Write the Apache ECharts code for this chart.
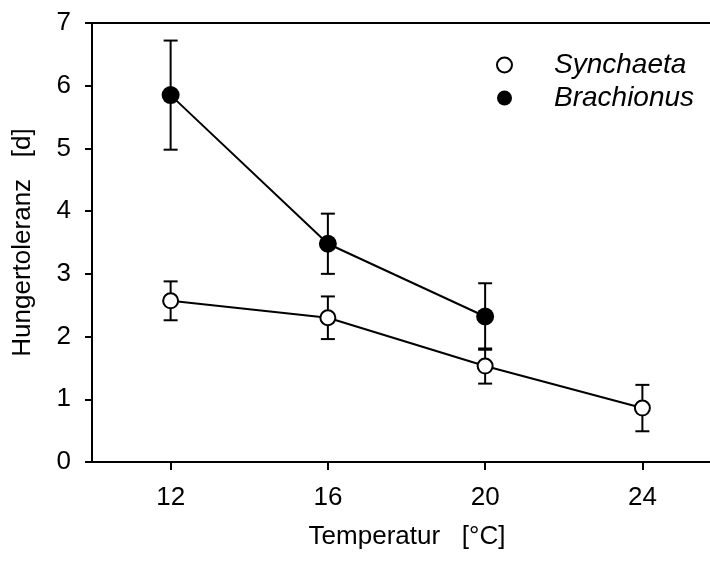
<!DOCTYPE html>
<html>
<head>
<meta charset="utf-8">
<script src="https://cdn.jsdelivr.net/npm/echarts@6/dist/echarts.min.js"></script>
<style>
  html, body { margin: 0; padding: 0; background: #fff; }
  #hunger-chart { width: 710px; height: 561px; }
</style>
</head>
<body>
<div id="hunger-chart"></div>
<script>
// Temperatur [°C]
const xTicks = [12, 16, 20, 24];
const yTicks = [0, 1, 2, 3, 4, 5, 6, 7];

// Synchaeta (open symbols)
const synchaetaTemps = [12, 16, 20, 24];
const synchaetaMean = [2.57, 2.30, 1.53, 0.86];
const synchaetaErr = [0.31, 0.34, 0.28, 0.37];

// Brachionus (filled symbols)
const brachionusTemps = [12, 16, 20];
const brachionusMean = [5.85, 3.48, 2.32];
const brachionusErr = [0.87, 0.48, 0.53];

const FONT = 'Liberation Sans, Arial, sans-serif';

function points(xs, ys) {
  return xs.map((x, i) => [x, ys[i]]);
}
function errRows(xs, ys, es) {
  return xs.map((x, i) => [x, ys[i] - es[i], ys[i] + es[i]]);
}

function renderErrorBar(params, api) {
  const x = api.value(0);
  const top = api.coord([x, api.value(2)]);
  const bot = api.coord([x, api.value(1)]);
  const half = 7;
  const style = { stroke: '#000', lineWidth: 2 };
  return {
    type: 'group',
    children: [
      { type: 'line', shape: { x1: top[0], y1: top[1], x2: bot[0], y2: bot[1] }, style },
      { type: 'line', shape: { x1: top[0] - half, y1: top[1], x2: top[0] + half, y2: top[1] }, style },
      { type: 'line', shape: { x1: bot[0] - half, y1: bot[1], x2: bot[0] + half, y2: bot[1] }, style },
    ],
  };
}

const chart = echarts.init(document.getElementById('hunger-chart'));
chart.setOption({
  animation: false,
  backgroundColor: '#fff',
  grid: { left: 92, top: 23, right: 0, bottom: 99 },
  legend: {
    orient: 'vertical',
    left: 491,
    top: 46,
    itemWidth: 15,
    itemHeight: 15,
    itemGap: 5,
    textStyle: {
      fontFamily: FONT,
      fontSize: 28,
      fontStyle: 'italic',
      color: '#000',
      padding: [0, 0, 0, 37],
    },
    data: [
      { name: 'Synchaeta', icon: 'circle', itemStyle: { color: '#fff', borderColor: '#000', borderWidth: 2 } },
      { name: 'Brachionus', icon: 'circle', itemStyle: { color: '#000', borderColor: '#000', borderWidth: 0 } },
    ],
  },
  xAxis: [
    {
      type: 'value',
      min: 10,
      max: 25.72,
      name: 'Temperatur   [°C]',
      nameLocation: 'middle',
      nameGap: 62,
      nameTextStyle: { fontFamily: FONT, fontSize: 26, color: '#000', padding: [0, 0, 0, 12] },
      axisLine: { show: true, onZero: false, lineStyle: { color: '#000', width: 2 } },
      axisTick: { show: true, length: 8, customValues: xTicks, lineStyle: { color: '#000', width: 2 } },
      axisLabel: { customValues: xTicks, margin: 23, fontFamily: FONT, fontSize: 26, color: '#000' },
      splitLine: { show: false },
    },
    {
      type: 'value',
      position: 'top',
      min: 10,
      max: 25.72,
      axisLine: { show: true, onZero: false, lineStyle: { color: '#000', width: 2 } },
      axisTick: { show: false },
      axisLabel: { show: false },
      splitLine: { show: false },
    },
  ],
  yAxis: {
    type: 'value',
    min: 0,
    max: 7,
    interval: 1,
    name: 'Hungertoleranz   [d]',
    nameLocation: 'middle',
    nameGap: 56,
    nameTextStyle: { fontFamily: FONT, fontSize: 26, color: '#000' },
    axisLine: { show: true, lineStyle: { color: '#000', width: 2 } },
    axisTick: { show: true, length: 7, lineStyle: { color: '#000', width: 2 } },
    axisLabel: { margin: 21, fontFamily: FONT, fontSize: 26, color: '#000' },
    splitLine: { show: false },
  },
  series: [
    {
      type: 'custom',
      name: 'synchaetaErr',
      renderItem: renderErrorBar,
      data: errRows(synchaetaTemps, synchaetaMean, synchaetaErr),
      z: 2,
    },
    {
      type: 'custom',
      name: 'brachionusErr',
      renderItem: renderErrorBar,
      data: errRows(brachionusTemps, brachionusMean, brachionusErr),
      z: 2,
    },
    {
      type: 'line',
      name: 'Synchaeta',
      data: points(synchaetaTemps, synchaetaMean),
      symbol: 'circle',
      symbolSize: 15,
      lineStyle: { color: '#000', width: 2 },
      itemStyle: { color: '#fff', borderColor: '#000', borderWidth: 2 },
      z: 3,
    },
    {
      type: 'line',
      name: 'Brachionus',
      data: points(brachionusTemps, brachionusMean),
      symbol: 'circle',
      symbolSize: 18,
      lineStyle: { color: '#000', width: 2 },
      itemStyle: { color: '#000', borderColor: '#000', borderWidth: 0 },
      z: 4,
    },
  ],
});
</script>
</body>
</html>
